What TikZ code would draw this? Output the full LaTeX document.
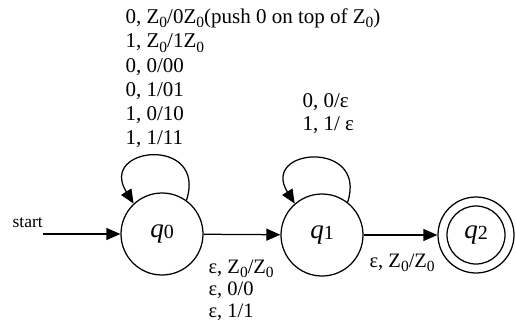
\documentclass[tikz,border=0pt]{standalone}
\usepackage{fontspec}
\setmainfont{Liberation Serif}
\usetikzlibrary{arrows.meta,calc}
\newcommand\zs[1]{\raisebox{-0.2em}{\fontsize{15.5}{15.5}\selectfont #1}}
\newcommand\qs[1]{{\fontsize{27}{27}\selectfont\itshape q}\raisebox{-0.12em}{\fontsize{20}{20}\selectfont #1}}
\begin{document}
\begin{tikzpicture}[x=1pt,y=1pt, line width=1.25pt,
  state/.style={circle, draw, minimum size=82pt, inner sep=0pt},
  arr/.style={-{Triangle[length=14pt,width=12pt]}},
  lab/.style={anchor=north west, inner sep=0pt, align=left}]
\useasboundingbox (0,0) rectangle (516,322);
% states
\node[state] (q0) at (162,88) {\qs{0}};
\node[state] (q1) at (322,87) {\qs{1}};
\node[state, minimum size=76pt] (q2) at (476,87) {\qs{2}};
\draw (q2.center) circle[radius=29pt];
% loop end points
\coordinate (a0) at ($(q0.center)+(54:41.6)$);
\coordinate (b0) at ($(q0.center)+(133:41.6)$);
\coordinate (a1) at ($(q1.center)+(52:41.6)$);
\coordinate (b1) at ($(q1.center)+(131:41.6)$);
% start
\coordinate (s) at (43,88);
\node[anchor=base west, inner sep=0pt, font=\fontsize{17.5}{20}\selectfont] (st) at (12,95) {start};
\draw[arr] (s) -- (q0);
% transitions
\draw[arr] (q0) -- (q1);
\draw[arr] (q1) -- (q2);
\draw[arr] (a0) .. controls ($(a0)+(72:68)$) and ($(b0)+(122:68)$) .. (b0);
\draw[arr] (a1) .. controls ($(a1)+(72:66)$) and ($(b1)+(122:66)$) .. (b1);
% labels
\node[lab, font=\fontsize{21}{24.2}\selectfont] (l0) at (125,315.9)
  {\strut 0, Z\zs{0}/0Z\zs{0}(push 0 on top of Z\zs{0})\\
   \strut 1, Z\zs{0}/1Z\zs{0}\\
   \strut 0, 0/00\\
   \strut 0, 1/01\\
   \strut 1, 0/10\\
   \strut 1, 1/11};
\node[lab, font=\fontsize{21}{23}\selectfont] (l1) at (302,231.1)
  {\strut 0, 0/ε\\
   \strut 1, 1/ ε};
\node[lab, font=\fontsize{20.5}{22}\selectfont] (l01) at (208,64.4)
  {\strut ε, Z\zs{0}/Z\zs{0}\\
   \strut ε, 0/0\\
   \strut ε, 1/1};
\node[lab, font=\fontsize{20.5}{22}\selectfont] (l12) at (369,70.4)
  {\strut ε, Z\zs{0}/Z\zs{0}};
\end{tikzpicture}
\end{document}
